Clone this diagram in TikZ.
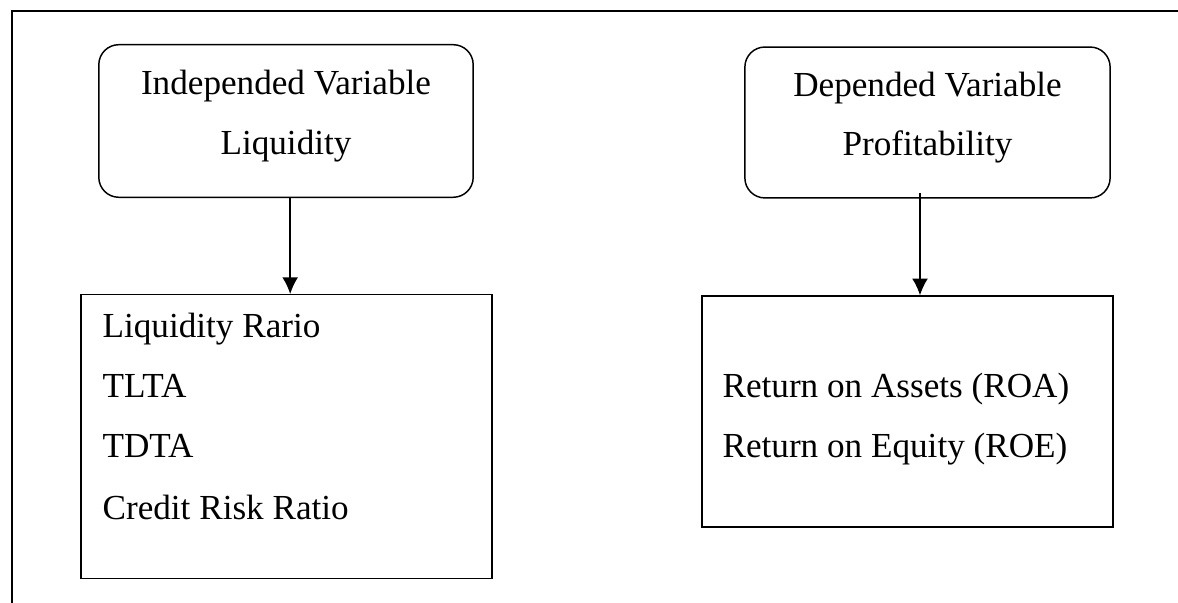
\documentclass[tikz,border=0pt]{standalone}
\usepackage{fontspec}
\setmainfont{Liberation Serif}
\usepackage{tikz}
\usetikzlibrary{arrows.meta}

\tikzset{
    varbox/.style={draw, line width=0.5pt, rounded corners=0.24cm, minimum width=4.49cm, minimum height=1.83cm, text depth=0.21cm, align=center, font=\fontsize{12}{20.4}\selectfont},
    listbox/.style={draw, line width=0.5pt, minimum width=4.93cm},
    item/.style={anchor=base west, inner sep=0pt, font=\fontsize{12}{14}\selectfont},
    arr/.style={-{Latex[length=0.2cm,width=0.19cm]}, line width=0.5pt}
}

\begin{document}
\begin{tikzpicture}[x=0.012cm, y=-0.012cm]
            \useasboundingbox (0,0) rectangle (1178,603);
            \draw[line width=0.6pt] (12,603) -- (12,11) -- (1178,11);

            \node[varbox] (indep) at (286,121) {Independed Variable\\Liquidity};
            \node[varbox, minimum width=4.38cm, minimum height=1.81cm] (dep) at (927.5,122.5) {Depended Variable\\Profitability};

            \node[listbox, minimum height=3.40cm] (liqbox) at (286.5,436.5) {};
            \node[listbox, minimum height=2.77cm] (profbox) at (907.5,411.5) {};

            \node[item] (lr) at (102,338) {Liquidity Rario};
            \node[item] (tlta) at (102,398) {TLTA};
            \node[item] (tdta) at (102,458) {TDTA};
            \node[item] (crr) at (102,520) {Credit Risk Ratio};

            \node[item] (roa) at (722,398) {Return on Assets (ROA)};
            \node[item] (roe) at (722,458) {Return on Equity (ROE)};

            \draw[arr] ([xshift=0.05cm]indep.south) -- ([xshift=0.05cm]indep.south |- liqbox.north);
            \draw[arr] ([xshift=-0.09cm,yshift=0.07cm]dep.south) -- ([xshift=-0.09cm]dep.south |- profbox.north);
        \end{tikzpicture}
\end{document}
